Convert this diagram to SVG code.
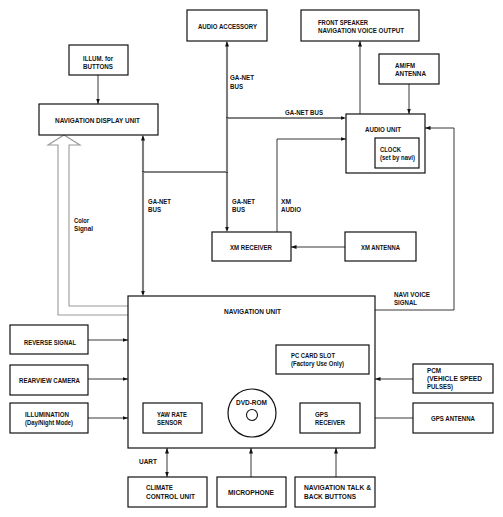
<svg xmlns="http://www.w3.org/2000/svg" xmlns:xlink="http://www.w3.org/1999/xlink" width="503" height="517" viewBox="0 0 503 517">
<style>
rect.n{fill:#fff;stroke:#111;stroke-width:1.2}
text{font-family:"Liberation Sans",Arial,sans-serif;font-weight:bold;font-size:7.5px;fill:#111}
.c{fill:none;stroke:#222;stroke-width:0.9}
.w{fill:none;stroke:#000;stroke-width:1.1;stroke-dasharray:1 1}
.cs{fill:none;stroke:#999;stroke-width:1.1}
</style>
<defs>
<marker id="a" markerUnits="userSpaceOnUse" markerWidth="6" markerHeight="6" viewBox="0 0 6 6" refX="5.5" refY="3" orient="auto-start-reverse">
<path d="M0,1 L5.5,3 L0,5 Z" fill="#111"/>
</marker>
<g id="wv">
<path d="M143,137 V294"/>
<path d="M227,43 V230"/>
<path d="M227,118 H344"/>
<path d="M143,172 H227"/>
</g>
</defs>
<rect width="503" height="517" fill="#fff"/>
<g id="connectors">
<use xlink:href="#wv" class="w" transform="translate(-0.5,-0.5)" style="stroke-dashoffset:0"/>
<use xlink:href="#wv" class="w" transform="translate(0.5,0.5)" style="stroke-dashoffset:1"/>
<path d="M143,140 V135" stroke="none" fill="none" marker-end="url(#a)"/>
<path d="M143,291 V296" stroke="none" fill="none" marker-end="url(#a)"/>
<path d="M227,46 V41" stroke="none" fill="none" marker-end="url(#a)"/>
<path d="M227,227 V232" stroke="none" fill="none" marker-end="url(#a)"/>
<path d="M341,118 H346" stroke="none" fill="none" marker-end="url(#a)"/>
<path class="c" d="M98,75 V104" marker-end="url(#a)"/>
<path class="c" d="M360,114 V41" marker-end="url(#a)"/>
<path class="c" d="M409,84 V114" marker-end="url(#a)"/>
<path class="c" d="M277,232 V139 H346" marker-end="url(#a)"/>
<path class="c" d="M345,247 H291" marker-end="url(#a)"/>
<path class="c" d="M375,310 H454 V128 H425" marker-end="url(#a)"/>
<path class="c" d="M88,340 H128" marker-end="url(#a)"/>
<path class="c" d="M88,379 H128" marker-end="url(#a)"/>
<path class="c" d="M88,418 H128" marker-end="url(#a)"/>
<path class="c" d="M413,379 H375" marker-end="url(#a)"/>
<path class="c" d="M413,418 H360" marker-end="url(#a)"/>
<path class="c" d="M167,448 V477" marker-start="url(#a)" marker-end="url(#a)"/>
<path class="c" d="M251,477 V448" marker-end="url(#a)"/>
<path class="c" d="M336,477 V448" marker-end="url(#a)"/>
<path class="cs" d="M128,315 H58 V145 H48 L64,135 L80,145 H69 V306 H128"/>
</g>
<g id="labels">
<text x="285" y="114.5" textLength="38" lengthAdjust="spacingAndGlyphs">GA-NET BUS</text>
<text x="230" y="79.5" textLength="24" lengthAdjust="spacingAndGlyphs">GA-NET</text>
<text x="230" y="88.5" textLength="13" lengthAdjust="spacingAndGlyphs">BUS</text>
<text x="148" y="203.5" textLength="23" lengthAdjust="spacingAndGlyphs">GA-NET</text>
<text x="148" y="211.5" textLength="13" lengthAdjust="spacingAndGlyphs">BUS</text>
<text x="232" y="203.5" textLength="23" lengthAdjust="spacingAndGlyphs">GA-NET</text>
<text x="232" y="211.5" textLength="13" lengthAdjust="spacingAndGlyphs">BUS</text>
<text x="281" y="203.5" textLength="10" lengthAdjust="spacingAndGlyphs">XM</text>
<text x="281" y="211.5" textLength="20" lengthAdjust="spacingAndGlyphs">AUDIO</text>
<text x="74" y="222.5" textLength="15" lengthAdjust="spacingAndGlyphs">Color</text>
<text x="74" y="230.5" textLength="19" lengthAdjust="spacingAndGlyphs">Signal</text>
<text x="394" y="296.5" textLength="36" lengthAdjust="spacingAndGlyphs">NAVI VOICE</text>
<text x="394" y="305" textLength="23" lengthAdjust="spacingAndGlyphs">SIGNAL</text>
<text x="139" y="463.5" textLength="18" lengthAdjust="spacingAndGlyphs">UART</text>
</g>
<g id="illum-buttons">
<rect class="n" x="69" y="45" width="59" height="30"/>
<text x="83" y="61" textLength="30" lengthAdjust="spacingAndGlyphs">ILLUM. for</text>
<text x="83" y="69" textLength="30" lengthAdjust="spacingAndGlyphs">BUTTONS</text>
</g>
<g id="nav-display">
<rect class="n" x="39" y="104" width="119" height="31"/>
<text x="55" y="122.5" textLength="85" lengthAdjust="spacingAndGlyphs">NAVIGATION DISPLAY UNIT</text>
</g>
<g id="audio-accessory">
<rect class="n" x="187" y="10" width="80" height="31"/>
<text x="198" y="28.5" textLength="59" lengthAdjust="spacingAndGlyphs">AUDIO ACCESSORY</text>
</g>
<g id="front-speaker">
<rect class="n" x="301" y="10" width="118" height="31"/>
<text x="318" y="24.5" textLength="50" lengthAdjust="spacingAndGlyphs">FRONT SPEAKER</text>
<text x="318" y="32.5" textLength="86" lengthAdjust="spacingAndGlyphs">NAVIGATION VOICE OUTPUT</text>
</g>
<g id="amfm-antenna">
<rect class="n" x="379" y="54" width="60" height="30"/>
<text x="395" y="68" textLength="20" lengthAdjust="spacingAndGlyphs">AM/FM</text>
<text x="395" y="76" textLength="31" lengthAdjust="spacingAndGlyphs">ANTENNA</text>
</g>
<g id="audio-unit">
<rect class="n" x="346" y="114" width="79" height="59"/>
<text x="365" y="131.5" textLength="36" lengthAdjust="spacingAndGlyphs">AUDIO UNIT</text>
<rect class="n" x="375" y="138" width="44" height="30"/>
<text x="380" y="151.5" textLength="21" lengthAdjust="spacingAndGlyphs">CLOCK</text>
<text x="380" y="159.5" textLength="35" lengthAdjust="spacingAndGlyphs">(set by navi)</text>
</g>
<g id="xm-receiver">
<rect class="n" x="212" y="232" width="79" height="29"/>
<text x="230" y="249.5" textLength="42" lengthAdjust="spacingAndGlyphs">XM RECEIVER</text>
</g>
<g id="xm-antenna">
<rect class="n" x="345" y="232" width="71" height="29"/>
<text x="361" y="249.5" textLength="39" lengthAdjust="spacingAndGlyphs">XM ANTENNA</text>
</g>
<g id="navigation-unit">
<rect class="n" x="128" y="296" width="247" height="152"/>
<text x="224" y="313.5" textLength="57" lengthAdjust="spacingAndGlyphs">NAVIGATION UNIT</text>
</g>
<g id="pc-card">
<rect class="n" x="276" y="345" width="93" height="29"/>
<text x="291" y="357.5" textLength="44" lengthAdjust="spacingAndGlyphs">PC CARD SLOT</text>
<text x="291" y="365.5" textLength="53" lengthAdjust="spacingAndGlyphs">(Factory Use Only)</text>
</g>
<g id="dvd-rom">
<circle cx="252" cy="413" r="24" fill="#fff" stroke="#111" stroke-width="1.2"/>
<circle cx="252" cy="415" r="5.5" fill="none" stroke="#111" stroke-width="1.1"/>
<text x="236" y="404.5" textLength="31" lengthAdjust="spacingAndGlyphs">DVD-ROM</text>
</g>
<g id="yaw-rate">
<rect class="n" x="143" y="403" width="59" height="30"/>
<text x="157" y="417" textLength="30" lengthAdjust="spacingAndGlyphs">YAW RATE</text>
<text x="157" y="425" textLength="25" lengthAdjust="spacingAndGlyphs">SENSOR</text>
</g>
<g id="gps-receiver">
<rect class="n" x="300" y="403" width="60" height="30"/>
<text x="315" y="417" textLength="13" lengthAdjust="spacingAndGlyphs">GPS</text>
<text x="315" y="425" textLength="30" lengthAdjust="spacingAndGlyphs">RECEIVER</text>
</g>
<g id="reverse-signal">
<rect class="n" x="10" y="325" width="78" height="29"/>
<text x="24" y="344.5" textLength="52" lengthAdjust="spacingAndGlyphs">REVERSE SIGNAL</text>
</g>
<g id="rearview-camera">
<rect class="n" x="10" y="365" width="78" height="30"/>
<text x="19" y="382.5" textLength="61" lengthAdjust="spacingAndGlyphs">REARVIEW CAMERA</text>
</g>
<g id="illumination">
<rect class="n" x="10" y="403" width="78" height="30"/>
<text x="25" y="417" textLength="44" lengthAdjust="spacingAndGlyphs">ILLUMINATION</text>
<text x="25" y="425" textLength="48" lengthAdjust="spacingAndGlyphs">(Day/Night Mode)</text>
</g>
<g id="pcm">
<rect class="n" x="413" y="364" width="80" height="29"/>
<text x="427" y="373" textLength="14" lengthAdjust="spacingAndGlyphs">PCM</text>
<text x="427" y="381" textLength="55" lengthAdjust="spacingAndGlyphs">(VEHICLE SPEED</text>
<text x="427" y="389" textLength="26" lengthAdjust="spacingAndGlyphs">PULSES)</text>
</g>
<g id="gps-antenna">
<rect class="n" x="413" y="403" width="80" height="30"/>
<text x="431" y="420.5" textLength="44" lengthAdjust="spacingAndGlyphs">GPS ANTENNA</text>
</g>
<g id="climate-control">
<rect class="n" x="128" y="477" width="79" height="30"/>
<text x="146" y="490" textLength="27" lengthAdjust="spacingAndGlyphs">CLIMATE</text>
<text x="146" y="498.5" textLength="49" lengthAdjust="spacingAndGlyphs">CONTROL UNIT</text>
</g>
<g id="microphone">
<rect class="n" x="217" y="477" width="69" height="30"/>
<text x="228" y="494.5" textLength="46" lengthAdjust="spacingAndGlyphs">MICROPHONE</text>
</g>
<g id="nav-talk">
<rect class="n" x="295" y="477" width="80" height="30"/>
<text x="304" y="490" textLength="67" lengthAdjust="spacingAndGlyphs">NAVIGATION TALK &amp;</text>
<text x="304" y="498.5" textLength="52" lengthAdjust="spacingAndGlyphs">BACK BUTTONS</text>
</g>
</svg>
